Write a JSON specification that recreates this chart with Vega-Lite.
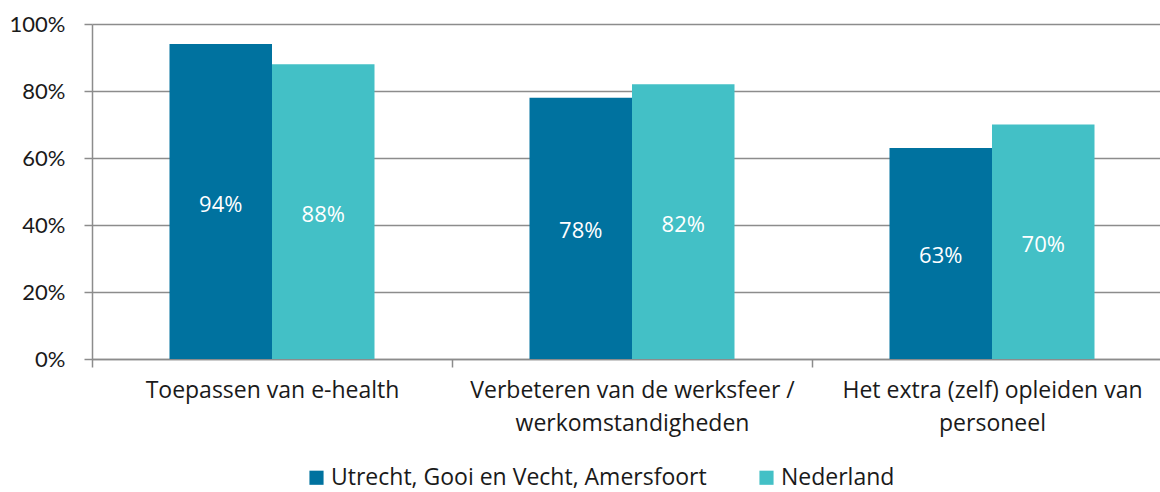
{
  "$schema": "https://vega.github.io/schema/vega-lite/v6.json",
  "width": 1080,
  "height": 335,
  "autosize": {"type": "none"},
  "padding": {"left": 92, "top": 24, "right": 0, "bottom": 133},
  "background": "white",
  "config": {
    "view": {"stroke": null},
    "font": "Open Sans"
  },
  "data": {
    "values": [
      {"cat": "Toepassen van e-health", "series": "Utrecht, Gooi en Vecht, Amersfoort", "value": 0.94},
      {"cat": "Toepassen van e-health", "series": "Nederland", "value": 0.88},
      {"cat": "Verbeteren van de werksfeer /|werkomstandigheden", "series": "Utrecht, Gooi en Vecht, Amersfoort", "value": 0.78},
      {"cat": "Verbeteren van de werksfeer /|werkomstandigheden", "series": "Nederland", "value": 0.82},
      {"cat": "Het extra (zelf) opleiden van|personeel", "series": "Utrecht, Gooi en Vecht, Amersfoort", "value": 0.63},
      {"cat": "Het extra (zelf) opleiden van|personeel", "series": "Nederland", "value": 0.70}
    ]
  },
  "encoding": {
    "x": {
      "field": "cat",
      "type": "nominal",
      "sort": null,
      "scale": {"paddingInner": 0, "paddingOuter": 0},
      "axis": {
        "title": null,
        "labelAngle": 0,
        "tickBand": "extent",
        "labelExpr": "split(datum.label, '|')",
        "labelFont": "Open Sans",
        "labelFontSize": 23,
        "labelLimit": 400,
        "labelColor": "#1a1a1a",
        "labelPadding": 12,
        "labelLineHeight": 33,
        "domainColor": "#8c8c8c",
        "domainWidth": 1.5,
        "tickColor": "#8c8c8c",
        "tickWidth": 1.5,
        "tickSize": 8
      }
    },
    "xOffset": {
      "field": "series",
      "type": "nominal",
      "sort": ["Utrecht, Gooi en Vecht, Amersfoort", "Nederland"],
      "scale": {"paddingInner": 0, "paddingOuter": 0.756}
    },
    "y": {
      "field": "value",
      "type": "quantitative",
      "scale": {"domain": [0, 1], "nice": false},
      "axis": {
        "title": null,
        "format": ".0%",
        "values": [0, 0.2, 0.4, 0.6, 0.8, 1],
        "labelFont": "Lato",
        "labelFontSize": 22,
        "labelColor": "#1a1a1a",
        "labelPadding": 19,
        "grid": true,
        "gridColor": "#8c8c8c",
        "gridWidth": 1.5,
        "domainColor": "#8c8c8c",
        "domainWidth": 1.5,
        "tickColor": "#8c8c8c",
        "tickWidth": 1.5,
        "tickSize": 8
      }
    }
  },
  "layer": [
    {
      "mark": {"type": "bar"},
      "encoding": {
        "color": {
          "field": "series",
          "type": "nominal",
          "sort": ["Utrecht, Gooi en Vecht, Amersfoort", "Nederland"],
          "scale": {"range": ["#00729F", "#43C0C6"]},
          "legend": {
            "title": null,
            "orient": "none",
            "direction": "horizontal",
            "legendX": 213,
            "legendY": 442,
            "symbolType": "square",
            "symbolSize": 200,
            "symbolStrokeWidth": 0,
            "symbolOpacity": 1,
            "labelFont": "Open Sans",
            "labelFontSize": 23,
            "labelColor": "#1a1a1a",
            "labelLimit": 500,
            "columnPadding": 48,
            "labelOffset": 3
          }
        }
      }
    },
    {
      "transform": [{"calculate": "datum.value / 2", "as": "mid"}],
      "mark": {"type": "text", "color": "white", "font": "Open Sans", "fontSize": 22, "baseline": "middle", "dy": 3},
      "encoding": {
        "y": {"field": "mid", "type": "quantitative"},
        "text": {"field": "value", "type": "quantitative", "format": ".0%"}
      }
    }
  ]
}
